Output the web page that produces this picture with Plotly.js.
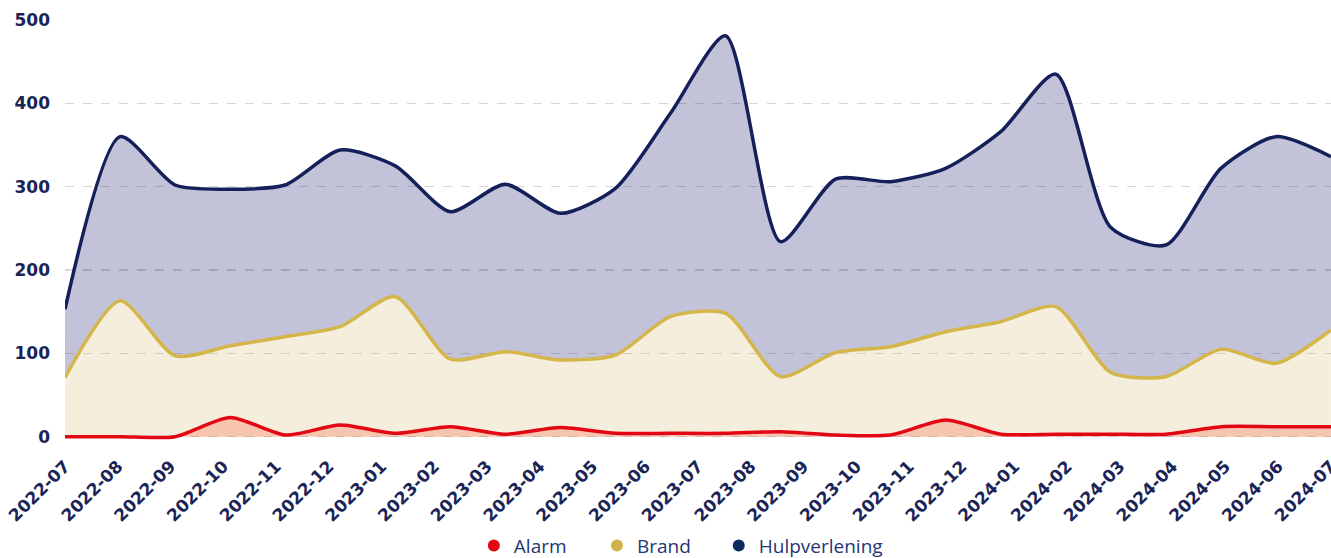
<!DOCTYPE html>
<html>
<head>
<meta charset="utf-8">
<script src="https://cdn.plot.ly/plotly-3.0.1.min.js"></script>
<style>html,body{margin:0;padding:0;background:#fff;}#chart{width:1331px;height:558px;}</style>
</head>
<body>
<div id="chart"></div>
<script>
const monthLabels = ['2022-07','2022-08','2022-09','2022-10','2022-11','2022-12','2023-01','2023-02','2023-03','2023-04','2023-05','2023-06','2023-07','2023-08','2023-09','2023-10','2023-11','2023-12','2024-01','2024-02','2024-03','2024-04','2024-05','2024-06','2024-07'];
const seriesNames = ['Alarm','Brand','Hulpverlening'];
const alarm = [0,0,0,23,2,14,4,12,3,11,4,4,4,6,2,2,20,3,3,3,3,12,12,12];
const brand = [71,163,97,109,120,132,168,93,102,92,98,144,148,72,101,108,126,138,156,77,72,105,88,128];
const hulpverlening = [153,360,302,297,302,344,325,270,303,268,298,388,481,234,309,306,322,366,435,251,230,322,360,336];

const idx = alarm.map((_, i) => i);
const nPts = alarm.length;
const tickVals = monthLabels.map((_, i) => i * (nPts - 1) / (monthLabels.length - 1));

const lineCols = ['#e30613', '#d4b64a', '#15205a'];
const fillCols = ['rgba(232,86,29,0.35)', 'rgba(205,170,85,0.2)', 'rgba(37,41,116,0.28)'];
const dotCols = ['#e30613', '#d0b24b', '#0b2d5e'];
const vals = [alarm, brand, hulpverlening];
const legendIds = ['legend', 'legend2', 'legend3'];
const legendX = [0.356, 0.4485, 0.540];

const traces = [];
vals.forEach((v, s) => {
  traces.push({
    x: idx, y: v, type: 'scatter', mode: 'lines', name: seriesNames[s],
    line: {color: lineCols[s], width: 3.5, shape: 'spline', smoothing: 0.7},
    fill: s === 0 ? 'tozeroy' : 'tonexty', fillcolor: fillCols[s],
    showlegend: false, hoverinfo: 'x+y'
  });
});
seriesNames.forEach((n, s) => {
  traces.push({
    x: [null], y: [null], type: 'scatter', mode: 'markers', name: n, legend: legendIds[s],
    marker: {color: dotCols[s], size: 16, symbol: 'circle'}, showlegend: true
  });
});

const tickFont = {family: 'DejaVu Sans', size: 17, color: '#1a2456', weight: 'bold'};
const layout = {
  width: 1331, height: 558,
  margin: {l: 65, r: 0, t: 20, b: 118, autoexpand: false},
  paper_bgcolor: '#ffffff', plot_bgcolor: '#ffffff',
  showlegend: true,
  xaxis: {
    range: [-0.0005, nPts - 1 + 0.0005], tickmode: 'array', tickvals: tickVals, ticktext: monthLabels,
    tickangle: -45, tickfont: tickFont, showgrid: false, zeroline: false, showline: false,
    ticks: '', ticklabelstandoff: 12, ticklabeloverflow: 'allow', automargin: false, fixedrange: true
  },
  yaxis: {
    range: [-4, 500], tickmode: 'array', tickvals: [0,100,200,300,400,500],
    tickfont: tickFont, showgrid: true, gridcolor: '#d6d6d6', griddash: '9px,9px', gridwidth: 1.5,
    zeroline: false, showline: false, ticks: '', ticklabelstandoff: 14, automargin: false, fixedrange: true
  }
};
legendIds.forEach((id, s) => {
  layout[id] = {
    orientation: 'h',
    x: legendX[s], xanchor: 'left', xref: 'container',
    y: 0.022, yanchor: 'middle', yref: 'container',
    font: {family: 'Open Sans', size: 19, color: '#263574'},
    itemsizing: 'constant', bgcolor: 'rgba(0,0,0,0)'
  };
});
Plotly.newPlot('chart', traces, layout, {displayModeBar: false, staticPlot: true});
</script>
</body>
</html>
